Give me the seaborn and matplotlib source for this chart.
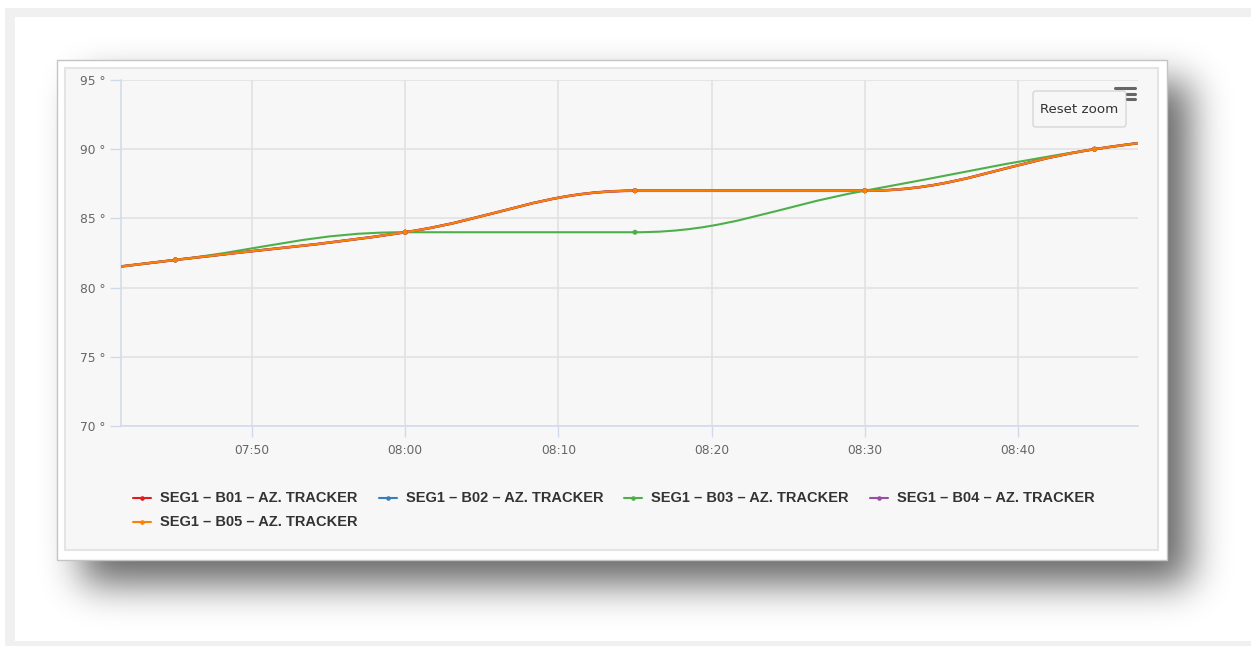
import numpy as np
import pandas as pd
import matplotlib
matplotlib.use("Agg")
import matplotlib.pyplot as plt
import matplotlib.dates as mdates
from matplotlib.path import Path
from matplotlib.patches import PathPatch, Rectangle, FancyBboxPatch
from matplotlib.lines import Line2D
import seaborn as sns

# ---- data -------------------------------------------------------------
times = ["07:30", "07:45", "08:00", "08:15", "08:30", "08:45", "09:00"]
b01 = [80, 82, 84, 87, 87, 90, 92]
b02 = [80, 82, 84, 87, 87, 90, 92]
b03 = [80, 82, 84, 84, 87, 90, 92]
b04 = [80, 82, 84, 87, 87, 90, 92]
b05 = [80, 82, 84, 87, 87, 90, 92]
series_names = [
    "SEG1 – B01 – AZ. TRACKER",
    "SEG1 – B02 – AZ. TRACKER",
    "SEG1 – B03 – AZ. TRACKER",
    "SEG1 – B04 – AZ. TRACKER",
    "SEG1 – B05 – AZ. TRACKER",
]
y_ticks = [70, 75, 80, 85, 90, 95]
x_ticks = ["07:50", "08:00", "08:10", "08:20", "08:30", "08:40"]
x_window = ["07:41:27", "08:47:50"]   # zoomed range
day = "2024-01-01 "

# ---- style ------------------------------------------------------------
sns.set_theme(style="whitegrid")
plt.rcParams["font.family"] = ["DejaVu Sans"]
palette = sns.color_palette("Set1", 5).as_hex()
colors = [palette[0], palette[1], palette[2], palette[3], palette[4]]

W, H = 1251, 646
fig = plt.figure(figsize=(W / 100, H / 100), dpi=100, facecolor="white")


def px_axes(x0, y0, x1, y1, **kw):
    """Axes placed by pixel box (top-left origin)."""
    return fig.add_axes([x0 / W, 1 - y1 / H, (x1 - x0) / W, (y1 - y0) / H], **kw)


# ---- page background, card and drop shadow ---------------------------
bg = px_axes(0, 0, W, H, zorder=-10)
bg.set_xlim(0, W)
bg.set_ylim(H, 0)
bg.axis("off")
bg.add_patch(Rectangle((5, 8), W, H, facecolor="#f0f0f0", edgecolor="none"))
bg.add_patch(Rectangle((15, 17), W, 624, facecolor="white", edgecolor="none"))


def gauss_blur(img, sigma):
    r = int(3 * sigma)
    k = np.exp(-0.5 * (np.arange(-r, r + 1) / sigma) ** 2)
    k /= k.sum()
    img = np.apply_along_axis(lambda v: np.convolve(v, k, mode="same"), 0, img)
    img = np.apply_along_axis(lambda v: np.convolve(v, k, mode="same"), 1, img)
    return img


shadow = np.zeros((H, W))
shadow[82:584, 82:1190] = 1.0
shadow = gauss_blur(shadow, 19) * 0.6
rgba = np.zeros((H, W, 4))
rgba[..., 3] = shadow
bg.imshow(rgba, extent=(0, W, H, 0), interpolation="bilinear", zorder=1)

bg.add_patch(Rectangle((57, 60), 1110, 500, facecolor="white",
                       edgecolor="#c4c4c4", lw=1, zorder=2))
bg.add_patch(Rectangle((65, 68), 1093, 482, facecolor="#f7f7f7",
                       edgecolor="#e4e4e4", lw=1.5, zorder=3))

# ---- plot area --------------------------------------------------------
ax = px_axes(121, 80, 1138, 426, zorder=1)
ax.set_facecolor("#f7f7f7")

t = pd.to_datetime([day + s for s in times])
series_vals = [b01, b02, b03, b04, b05]
df = pd.DataFrame({
    "time": np.tile(t, 5),
    "value": np.concatenate(series_vals),
    "series": np.repeat(series_names, len(times)),
})


def spline_path(xs, ys, smoothing=1.5):
    """Cubic spline path built the way Highcharts smooths its 'spline' series."""
    n = len(xs)
    denom = smoothing + 1
    left = [(xs[i], ys[i]) for i in range(n)]
    right = [(xs[i], ys[i]) for i in range(n)]
    for i in range(1, n - 1):
        x, y = xs[i], ys[i]
        lx, ly = xs[i - 1], ys[i - 1]
        nx, ny = xs[i + 1], ys[i + 1]
        lcx = (smoothing * x + lx) / denom
        lcy = (smoothing * y + ly) / denom
        rcx = (smoothing * x + nx) / denom
        rcy = (smoothing * y + ny) / denom
        corr = 0.0
        if rcx != lcx:
            corr = (rcy - lcy) * (rcx - x) / (rcx - lcx) + y - rcy
        lcy += corr
        rcy += corr
        if lcy > ly and lcy > y:
            lcy = max(ly, y); rcy = 2 * y - lcy
        elif lcy < ly and lcy < y:
            lcy = min(ly, y); rcy = 2 * y - lcy
        if rcy > ny and rcy > y:
            rcy = max(ny, y); lcy = 2 * y - rcy
        elif rcy < ny and rcy < y:
            rcy = min(ny, y); lcy = 2 * y - rcy
        left[i] = (lcx, lcy)
        right[i] = (rcx, rcy)
    verts = [(xs[0], ys[0])]
    codes = [Path.MOVETO]
    for i in range(1, n):
        verts += [right[i - 1], left[i], (xs[i], ys[i])]
        codes += [Path.CURVE4] * 3
    return Path(verts, codes)


xnum = mdates.date2num(t)
line_w = [1.9, 1.5, 1.5, 1.5, 1.5]
for k, (name, vals) in enumerate(zip(series_names, series_vals)):
    path = spline_path(list(xnum), [float(v) for v in vals])
    ax.add_patch(PathPatch(path, facecolor="none", edgecolor=colors[k],
                           lw=line_w[k], zorder=3 + k, capstyle="round",
                           joinstyle="round"))

sns.scatterplot(data=df, x="time", y="value", hue="series",
                hue_order=series_names, palette=colors, s=13,
                linewidth=0, legend=False, ax=ax, zorder=10)

ax.set_xlim(pd.Timestamp(day + x_window[0]), pd.Timestamp(day + x_window[1]))
ax.set_ylim(y_ticks[0], y_ticks[-1])
ax.set_xlabel("")
ax.set_ylabel("")

ax.set_yticks(y_ticks)
ax.set_yticklabels([f"{v} °" for v in y_ticks])
ax.set_xticks([pd.Timestamp(day + s) for s in x_ticks])
ax.xaxis.set_major_formatter(mdates.DateFormatter("%H:%M"))

ax.grid(True, color="#e0e0e0", lw=1.1)
for s in ["top", "right"]:
    ax.spines[s].set_visible(False)
for s in ["left", "bottom"]:
    ax.spines[s].set_visible(True)
    ax.spines[s].set_color("#cfdaea")
    ax.spines[s].set_linewidth(1.1)
ax.tick_params(axis="y", length=8, width=1, color="#cfdaea",
               labelcolor="#666666", labelsize=8.8, pad=3, left=True)
ax.tick_params(axis="x", length=8, width=1, color="#cfdaea",
               labelcolor="#666666", labelsize=8.8, pad=5, bottom=True)

# ---- overlay: legend, reset-zoom button, menu icon -------------------
ov = px_axes(0, 0, W, H, zorder=5)
ov.set_xlim(0, W)
ov.set_ylim(H, 0)
ov.axis("off")
ov.patch.set_alpha(0)

col_x = [133, 379, 624, 870]
row_y = [498, 522]
for k, name in enumerate(series_names):
    cx = col_x[k % 4]
    cy = row_y[k // 4]
    ov.add_line(Line2D([cx, cx + 18], [cy, cy], color=colors[k], lw=1.5))
    ov.plot([cx + 9], [cy], marker="o", ms=3.3, color=colors[k], mew=0)
    ov.text(cx + 27, cy, name, fontsize=10.5, fontweight="bold",
            family=["Liberation Sans", "DejaVu Sans"], color="#333333",
            va="center", ha="left")

ov.add_patch(FancyBboxPatch((1033, 91), 93, 36,
                            boxstyle="round,pad=0,rounding_size=3",
                            facecolor="#f7f7f7", edgecolor="#d6d6d6", lw=1))
ov.text(1079, 109.5, "Reset zoom", fontsize=9.6, color="#333333",
        ha="center", va="center")
ov.add_line(Line2D([1115, 1135], [87.5, 87.5], color="#666666", lw=2.2))
ov.add_line(Line2D([1127, 1135], [93.5, 93.5], color="#666666", lw=2.2))
ov.add_line(Line2D([1127, 1135], [99, 99], color="#666666", lw=2.2))

fig.savefig("out.png", dpi=100, facecolor="white")
